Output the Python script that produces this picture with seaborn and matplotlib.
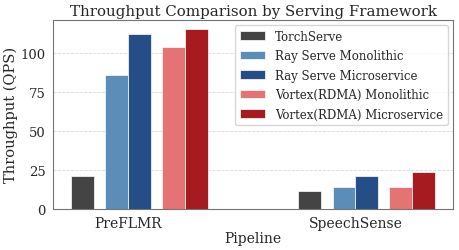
import numpy as np
import pandas as pd
import matplotlib
matplotlib.use("Agg")
import matplotlib.pyplot as plt
import seaborn as sns

# данные с картинки
pipelines = ["PreFLMR", "SpeechSense"]
frameworks = ["TorchServe", "Ray Serve Monolithic", "Ray Serve Microservice",
              "Vortex(RDMA) Monolithic", "Vortex(RDMA) Microservice"]
torchserve = [20.8, 11.5]
ray_mono = [85.7, 13.7]
ray_micro = [112.4, 21.2]
vortex_mono = [103.5, 13.7]
vortex_micro = [115.6, 23.3]
colors = ["#444444", "#5b8db8", "#254e86", "#e57373", "#a61b1f"]

# смещения столбиков внутри группы (в ширинах столбика)
bar_w = 0.1
offsets = [-2.0, -0.5, 0.5, 2.0, 3.0]

series = [torchserve, ray_mono, ray_micro, vortex_mono, vortex_micro]
rows = []
for fw, off, vals in zip(frameworks, offsets, series):
    for i, v in enumerate(vals):
        rows.append({"pos": i + off * bar_w, "Framework": fw, "QPS": v})
df = pd.DataFrame(rows)

sns.set_style("whitegrid", {"grid.linestyle": "--", "axes.edgecolor": "0.45"})
plt.rcParams["font.family"] = ["DejaVu Serif"]

fig, ax = plt.subplots(figsize=(4.6, 2.51), dpi=100)
sns.barplot(data=df, x="pos", y="QPS", hue="Framework", hue_order=frameworks,
            palette=colors, saturation=1, native_scale=True, dodge=False,
            width=1.0, edgecolor="white", linewidth=0.5, ax=ax)

ax.set_xticks(range(len(pipelines)))
ax.set_xticklabels(pipelines, fontsize=10)
ax.tick_params(axis="x", pad=1.5)
ax.tick_params(axis="y", labelsize=9.5, pad=1.5)
ax.set_yticks([0, 25, 50, 75, 100])
ax.grid(axis="x", visible=False)
ax.grid(axis="y", color="0.85", linestyle="--", linewidth=0.6)
ax.margins(x=0.05)
ax.set_xlabel("Pipeline", fontsize=10, labelpad=1)
ax.set_ylabel("Throughput (QPS)", fontsize=10.5, labelpad=2)
ax.set_title("Throughput Comparison by Serving Framework", fontsize=10.8, pad=3)
ax.legend(loc="upper right", fontsize=8.5, frameon=True, handlelength=2.2,
          labelspacing=0.55, borderaxespad=0.45)

fig.subplots_adjust(left=0.115, right=0.985, top=0.918, bottom=0.165)
plt.savefig("out.png", dpi=100)
